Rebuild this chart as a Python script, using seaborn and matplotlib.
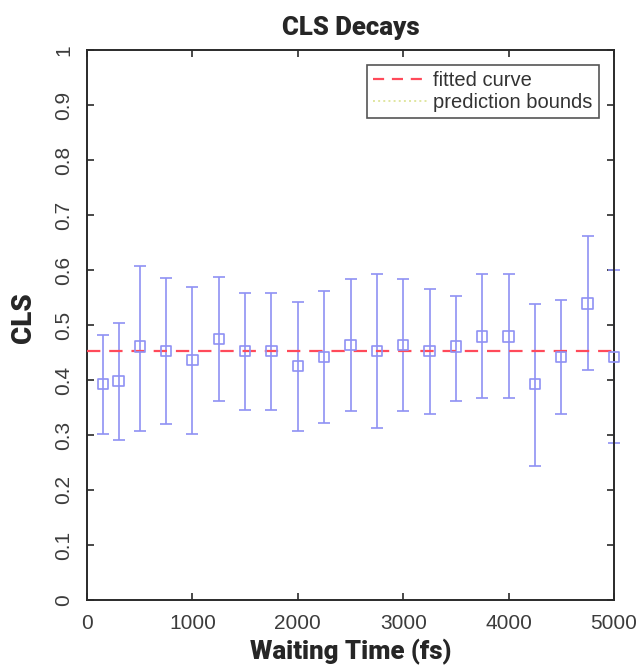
import numpy as np
import pandas as pd
import matplotlib
matplotlib.use("Agg")
import matplotlib.pyplot as plt
import seaborn as sns
from matplotlib.lines import Line2D

waiting_time = [150, 300, 500, 750, 1000, 1250, 1500, 1750, 2000, 2250, 2500,
                2750, 3000, 3250, 3500, 3750, 4000, 4250, 4500, 4750, 5000]
cls_value = [0.393, 0.398, 0.461, 0.453, 0.436, 0.475, 0.453, 0.453, 0.425, 0.442, 0.464,
             0.453, 0.464, 0.453, 0.461, 0.479, 0.479, 0.393, 0.442, 0.539, 0.442]
cls_upper = [0.482, 0.504, 0.607, 0.585, 0.569, 0.588, 0.559, 0.559, 0.542, 0.561, 0.584,
             0.592, 0.583, 0.565, 0.553, 0.593, 0.593, 0.539, 0.545, 0.662, 0.600]
cls_lower = [0.302, 0.291, 0.308, 0.320, 0.302, 0.361, 0.345, 0.345, 0.307, 0.322, 0.344,
             0.312, 0.343, 0.339, 0.362, 0.367, 0.367, 0.244, 0.338, 0.418, 0.286]
fit_x = [0, 5000]
fit_y = [0.4535, 0.4535]

x_ticks = [0, 1000, 2000, 3000, 4000, 5000]
y_ticks = [0, 0.1, 0.2, 0.3, 0.4, 0.5, 0.6, 0.7, 0.8, 0.9, 1]
y_ticklabels = ["0", "0.1", "0.2", "0.3", "0.4", "0.5", "0.6", "0.7", "0.8", "0.9", "1"]

sns.set_theme(style="white")
plt.rcParams['font.family'] = ['Liberation Sans', 'DejaVu Sans']

fig = plt.figure(figsize=(6.42, 6.69), dpi=100)
ax = fig.add_axes([87/642, 69/669, (614-87)/642, 550/669])

df = pd.DataFrame({"t": waiting_time, "cls": cls_value,
                   "lo": cls_lower, "hi": cls_upper})
blue = "#8f91f4"
red = "#ff4a5a"

yerr = np.vstack([df["cls"] - df["lo"], df["hi"] - df["cls"]])
ax.errorbar(df["t"], df["cls"], yerr=yerr, fmt="none", ecolor=blue,
            elinewidth=1.2, capsize=4.5, capthick=1.2, zorder=2, clip_on=False)

fit_df = pd.DataFrame({"t": fit_x, "fit": fit_y})
sns.lineplot(data=fit_df, x="t", y="fit", ax=ax, color=red, lw=1.6,
             dashes=False, zorder=3, legend=False)
ax.lines[-1].set_dashes([6, 4])

sns.scatterplot(data=df, x="t", y="cls", ax=ax, marker="s", s=55,
                facecolor="none", edgecolor=blue, linewidth=1.2, zorder=4,
                legend=False)
for coll in ax.collections:
    coll.set_clip_on(False)

ax.set_xlim(0, 5000)
ax.set_ylim(0, 1)
ax.set_xticks(x_ticks)
ax.set_xticklabels([str(v) for v in x_ticks])
ax.set_yticks(y_ticks)
ax.set_yticklabels(y_ticklabels, rotation=90, va="center")

ax.tick_params(axis="both", direction="in", length=5, width=1.2,
               colors="#2a2a2a", labelcolor="#3c3c3c", labelsize=15,
               top=True, right=True, bottom=True, left=True)
ax.tick_params(axis="x", pad=10)
ax.tick_params(axis="y", pad=10)
for sp in ax.spines.values():
    sp.set_visible(True)
    sp.set_color("#2a2a2a")
    sp.set_linewidth(1.4)

label_font = dict(family=["Roboto", "DejaVu Sans"], weight="black")
ax.set_title("CLS Decays", fontsize=18.5, pad=11, **label_font)
ax.set_xlabel("Waiting Time (fs)", fontsize=18.5, labelpad=4, **label_font)
ax.set_ylabel("CLS", fontsize=20, **label_font)
ax.yaxis.set_label_coords(-0.094, 0.513)

handles = [Line2D([], [], color=red, lw=1.6, dashes=[5, 3.5]),
           Line2D([], [], color="#e0e6a0", lw=1.4, linestyle=":")]
leg = ax.legend(handles, ["fitted curve", "prediction bounds"], loc="upper right",
                fontsize=14.5, frameon=True, fancybox=False, borderaxespad=0.75,
                handlelength=2.7, handletextpad=0.3, borderpad=0.3,
                labelspacing=0.15)
leg.get_frame().set_edgecolor("#2a2a2a")
leg.get_frame().set_linewidth(1.2)
for t in leg.get_texts():
    t.set_color("#333333")

fig.savefig("out.png", dpi=100)
